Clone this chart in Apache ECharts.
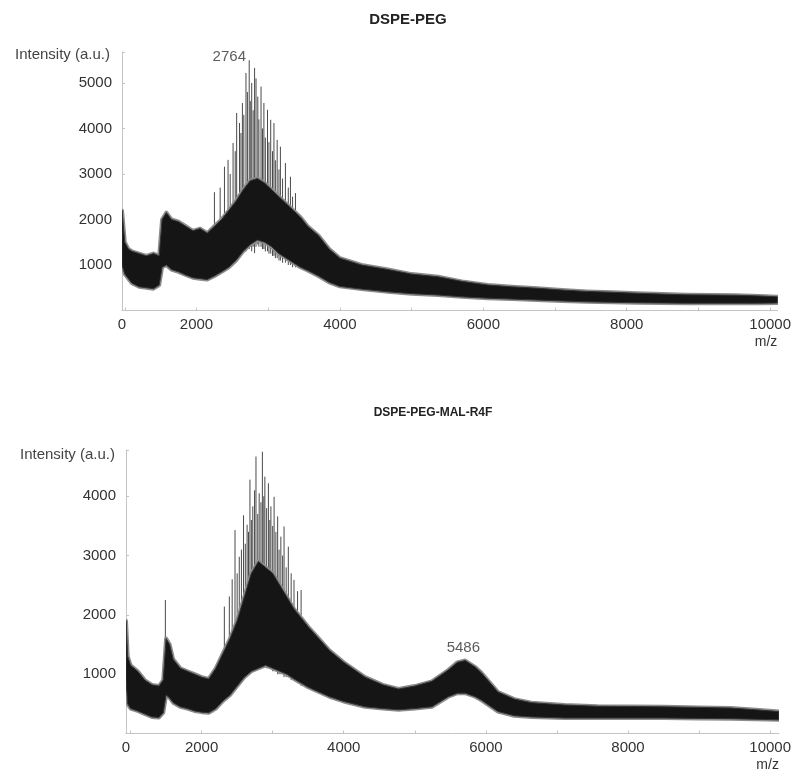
<!DOCTYPE html>
<html>
<head>
<meta charset="utf-8">
<title>DSPE-PEG mass spectra</title>
<script src="https://cdn.jsdelivr.net/npm/echarts@6/dist/echarts.min.js"></script>
<style>
  html, body { margin: 0; padding: 0; background: #fff; }
  #chart { width: 794px; height: 776px; }
</style>
</head>
<body>
<div id="chart"></div>
<script>
// ---- DSPE-PEG (top) : noise band, read every ~100 m/z ----
const topMz = [961, 1000, 1050, 1100, 1200, 1300, 1400, 1480, 1520, 1580, 1650, 1750, 1850, 1950, 2050, 2150, 2250, 2350, 2450, 2550, 2650, 2750, 2850, 2950, 3050, 3150, 3250, 3350, 3450, 3550, 3700, 3850, 4000, 4300, 4670, 5000, 5370, 5700, 6060, 6400, 6750, 7100, 7440, 7800, 8140, 8500, 8830, 9200, 9520, 9850, 10100];
const topLo = [1000, 800, 700, 600, 520, 500, 480, 560, 950, 1000, 900, 850, 780, 720, 700, 680, 760, 850, 950, 1100, 1300, 1450, 1550, 1500, 1400, 1250, 1150, 1050, 950, 880, 760, 620, 530, 470, 410, 370, 340, 300, 270, 250, 230, 210, 190, 180, 170, 165, 160, 160, 160, 160, 165];
const topHi = [2200, 1500, 1350, 1300, 1250, 1200, 1250, 1200, 2000, 2150, 2000, 1950, 1850, 1750, 1800, 1700, 1850, 2000, 2200, 2400, 2650, 2850, 2900, 2800, 2650, 2500, 2350, 2200, 2050, 1850, 1650, 1350, 1150, 1000, 900, 800, 740, 640, 560, 520, 490, 450, 420, 400, 380, 360, 345, 340, 335, 320, 300];
// spikes in the 2764 cluster
const topSpikeMz = [2250, 2330, 2390, 2440, 2470, 2510, 2540, 2560, 2600, 2620, 2640, 2660, 2690, 2710, 2735, 2750, 2770, 2790, 2810, 2830, 2855, 2870, 2900, 2920, 2940, 2960, 2990, 3010, 3035, 3060, 3080, 3100, 3125, 3150, 3170, 3200, 3240, 3280, 3310, 3340, 3380];
const topSpikeLo = [900, 950, 1000, 1050, 1050, 1100, 1150, 1150, 1200, 1250, 1250, 1300, 1300, 1350, 1350, 1400, 1300, 1400, 1260, 1400, 1450, 1400, 1400, 1350, 1350, 1300, 1300, 1250, 1250, 1200, 1200, 1150, 1150, 1100, 1100, 1050, 1050, 1000, 1000, 950, 950];
const topSpikeHi = [2600, 2700, 3160, 3310, 3000, 3680, 3500, 4340, 4120, 3900, 4560, 4300, 5220, 4800, 5500, 4600, 5000, 4400, 5330, 5100, 4700, 4200, 4920, 4000, 4560, 3800, 4410, 3700, 4190, 3500, 4120, 3300, 3750, 3100, 3600, 2900, 3240, 2700, 2940, 2500, 2580];
const topPeak = [2764, 5570];

// ---- DSPE-PEG-MAL-R4F (bottom) ----
const botMz = [936, 960, 1000, 1100, 1200, 1300, 1400, 1460, 1500, 1550, 1600, 1700, 1800, 1900, 2000, 2100, 2200, 2300, 2400, 2500, 2600, 2700, 2800, 2900, 3000, 3100, 3200, 3300, 3400, 3500, 3650, 3800, 4000, 4300, 4550, 4770, 5000, 5240, 5470, 5600, 5710, 5850, 5940, 6170, 6400, 6640, 7110, 7570, 8040, 8510, 9000, 9440, 9800, 10123];
const botLo = [900, 500, 420, 380, 330, 280, 270, 350, 650, 600, 520, 450, 420, 380, 360, 350, 420, 550, 650, 800, 950, 1050, 1100, 1150, 1100, 1050, 1000, 920, 850, 780, 700, 620, 540, 450, 420, 400, 420, 450, 620, 680, 680, 620, 560, 370, 300, 280, 260, 260, 260, 260, 255, 250, 240, 230];
const botHi = [1900, 1300, 1150, 1050, 900, 820, 800, 900, 1600, 1500, 1250, 1100, 1050, 1000, 950, 920, 1100, 1350, 1600, 1900, 2300, 2700, 2900, 2800, 2700, 2500, 2300, 2100, 1950, 1800, 1600, 1400, 1200, 950, 820, 750, 800, 880, 1070, 1200, 1230, 1120, 1020, 700, 580, 520, 480, 460, 455, 450, 440, 430, 400, 370];
const botSpikeMz = [1490, 2320, 2390, 2430, 2470, 2500, 2530, 2560, 2590, 2615, 2640, 2660, 2680, 2700, 2720, 2745, 2765, 2790, 2810, 2835, 2855, 2875, 2890, 2915, 2940, 2960, 2975, 3000, 3020, 3045, 3070, 3090, 3115, 3140, 3160, 3190, 3220, 3260, 3300, 3350, 3400, 3760];
const botSpikeLo = [600, 700, 750, 800, 850, 850, 900, 900, 950, 950, 1000, 1000, 1000, 1050, 1050, 1050, 1100, 1100, 1100, 1100, 1150, 1150, 1150, 1100, 1100, 1100, 1100, 1050, 1050, 1050, 1000, 1000, 1000, 1000, 950, 950, 950, 900, 900, 850, 800, 650];
const botSpikeHi = [2250, 2140, 2310, 2600, 3430, 2700, 2980, 3100, 3680, 3200, 3520, 3400, 4280, 3600, 3830, 4100, 4670, 3700, 4050, 3900, 4750, 4000, 4330, 3800, 4220, 3600, 3830, 3500, 3990, 3400, 3660, 3100, 3320, 3000, 3490, 2800, 3150, 2700, 2590, 2400, 2420, 1460];
const botPeak = [5486, 1440];

const xLabelValuesTop = [961, 2000, 4000, 6000, 8000, 10000];
const xLabelValuesBot = [936, 2000, 4000, 6000, 8000, 10000];
const xTickValues = [1000, 2000, 3000, 4000, 5000, 6000, 7000, 8000, 9000, 10000];

const FONT = '"Liberation Sans", Arial, sans-serif';
const chart = echarts.init(document.getElementById('chart'));

function spikeItem(params, api) {
  const a = api.coord([api.value(0), api.value(1)]);
  const b = api.coord([api.value(0), api.value(2)]);
  return {
    type: 'line',
    shape: { x1: a[0], y1: a[1], x2: b[0], y2: b[1] },
    style: { stroke: '#4a4a4a', lineWidth: 1 }
  };
}

// whole band as one polygon, drawn once from the first item
function bandItem(params, api) {
  if (params.dataIndexInside !== 0) return null;
  const n = params.dataInsideLength;
  const upper = [], lower = [];
  for (let i = 0; i < n; i++) {
    const m = api.value(0, i);
    upper.push(api.coord([m, api.value(2, i)]));
    lower.push(api.coord([m, api.value(1, i)]));
  }
  const pts = upper.concat(lower.reverse());
  return {
    type: 'group',
    children: [
      { type: 'polygon', shape: { points: pts },
        style: { fill: '#8c8c8c', stroke: '#8c8c8c', lineWidth: 4, lineJoin: 'round' } },
      { type: 'polygon', shape: { points: pts },
        style: { fill: '#151515', stroke: '#333', lineWidth: 1 } }
    ]
  };
}

function xAxisFor(idx, min, max, labelValues) {
  return {
    type: 'value', gridIndex: idx, min: min, max: max,
    name: 'm/z', nameLocation: 'end', nameGap: 0,
    nameTextStyle: { color: '#333', fontFamily: FONT, fontSize: 14, align: 'right', verticalAlign: 'top', padding: [25, 0, 0, 0] },
    axisLine: { lineStyle: { color: '#c4c4c4', width: 1 } },
    axisTick: { show: true, inside: true, length: 3, customValues: xTickValues, lineStyle: { color: '#c4c4c4' } },
    axisLabel: {
      customValues: labelValues, margin: 7,
      color: '#333', fontFamily: FONT, fontSize: 15,
      formatter: v => (v < 1500 ? '0' : String(v))
    },
    splitLine: { show: false }
  };
}

function yAxisFor(idx, max, namePad) {
  return {
    type: 'value', gridIndex: idx, min: 0, max: max, interval: 1000,
    name: 'Intensity (a.u.)', nameLocation: 'end', nameGap: namePad[0],
    nameTextStyle: { color: '#444', fontFamily: FONT, fontSize: 15, align: 'right', verticalAlign: 'middle', padding: [0, namePad[1], 0, 0] },
    axisLine: { show: true, lineStyle: { color: '#c4c4c4', width: 1 } },
    axisTick: { show: true, inside: true, length: 3, lineStyle: { color: '#c4c4c4' } },
    axisLabel: {
      margin: 10, color: '#333', fontFamily: FONT, fontSize: 15,
      formatter: v => (v > 0 && v % 1000 === 0 ? String(v) : '')
    },
    splitLine: { show: false }
  };
}

function bandSeries(idx, mz, lo, hi) {
  return {
    type: 'custom', xAxisIndex: idx, yAxisIndex: idx, z: 3, silent: true, clip: true,
    renderItem: bandItem,
    encode: { x: 0, y: [1, 2] },
    data: mz.map((m, i) => [m, lo[i], hi[i]])
  };
}

function spikeSeries(idx, mz, lo, hi) {
  return {
    type: 'custom', xAxisIndex: idx, yAxisIndex: idx, z: 2, silent: true, clip: true,
    renderItem: spikeItem,
    encode: { x: 0, y: [1, 2] },
    data: mz.map((m, i) => [m, lo[i], hi[i]])
  };
}

function peakLabel(idx, point, offset) {
  return {
    type: 'scatter', xAxisIndex: idx, yAxisIndex: idx, z: 5, silent: true,
    symbolSize: 0,
    label: {
      show: true, position: 'inside', offset: offset,
      formatter: () => String(point[0]),
      color: '#333', fontFamily: FONT, fontSize: 15
    },
    data: [point]
  };
}

chart.setOption({
  animation: false,
  backgroundColor: '#fff',
  title: [
    { text: 'DSPE-PEG', left: 408, top: 12, textAlign: 'center', padding: 0,
      textStyle: { fontFamily: FONT, fontSize: 15, fontWeight: 'bold', color: '#222' } },
    { text: 'DSPE-PEG-MAL-R4F', left: 433, top: 407, textAlign: 'center', padding: 0,
      textStyle: { fontFamily: FONT, fontSize: 12, fontWeight: 'bold', color: '#222' } }
  ],
  grid: [
    { left: 122, top: 52, width: 660, height: 258.5 },
    { left: 126, top: 450, width: 656, height: 283.5 }
  ],
  xAxis: [
    xAxisFor(0, 961, 10100, xLabelValuesTop),
    xAxisFor(1, 936, 10123, xLabelValuesBot)
  ],
  yAxis: [
    yAxisFor(0, 5680, [-3, 12]),
    yAxisFor(1, 4780, [-5, 11])
  ],
  series: [
    spikeSeries(0, topSpikeMz, topSpikeLo, topSpikeHi),
    bandSeries(0, topMz, topLo, topHi),
    peakLabel(0, topPeak, [-22, 0]),
    spikeSeries(1, botSpikeMz, botSpikeLo, botSpikeHi),
    bandSeries(1, botMz, botLo, botHi),
    peakLabel(1, botPeak, [14, 0])
  ]
});
</script>
</body>
</html>
